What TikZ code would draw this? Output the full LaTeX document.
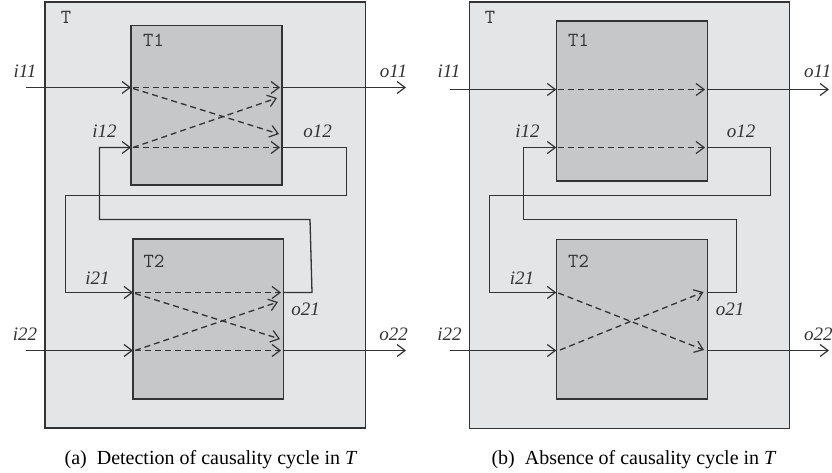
\documentclass[tikz,border=0pt]{standalone}
\usepackage{fontspec}
\setmainfont{Liberation Serif}
\usetikzlibrary{arrows.meta}
\definecolor{outerfill}{HTML}{E4E5E7}
\definecolor{innerfill}{HTML}{C6C7C9}
\definecolor{ink}{HTML}{333333}
\tikzset{
  barb/.tip={Straight Barb[length=8pt,width=12pt,line width=1.2pt]},
  outerbox/.style={draw=ink,line width=1.5pt,fill=outerfill},
  innerbox/.style={draw=ink,line width=1.5pt,fill=innerfill},
  wire/.style={draw=ink,line width=1.3pt},
  flow/.style={wire,-barb},
  dep/.style={wire,dash pattern=on 6pt off 4pt,-barb},
  lbl/.style={anchor=base,inner sep=0pt,text=ink,font=\fontsize{19}{19}\selectfont\itshape},
  tlbl/.style={anchor=base,inner sep=0pt,text=ink,font=\fontsize{20}{20}\selectfont\ttfamily},
  captext/.style={anchor=base,inner sep=0pt,text=black,font=\fontsize{20}{20}\selectfont},
}
\begin{document}
\begin{tikzpicture}[x=1pt,y=-1pt]
\useasboundingbox (0,0) rectangle (832,473);
% ================= panel (a) =================
\path[outerbox] (45,2) rectangle (365.5,428);
\node[tlbl] (aT) at (66,24) {T};
\path[innerbox] (131,25.5) rectangle (282,185);
\path[innerbox] (133,239) rectangle (283.5,399);
\node[tlbl] (aT1) at (153.5,47) {T1};
\node[tlbl] (aT2) at (154,267) {T2};
% coordinates
\coordinate (a11in) at (131,87.5);
\coordinate (a12in) at (131,147.5);
\coordinate (a11out) at (282,87.5);
\coordinate (a12out) at (282,147.5);
\coordinate (a21in) at (133,292.5);
\coordinate (a22in) at (133,350.5);
\coordinate (a21out) at (283.5,292.5);
\coordinate (a22out) at (283.5,350.5);
\coordinate (a11src) at (26,87.5);
\coordinate (a11dst) at (406,87.5);
\coordinate (a22src) at (26,350.5);
\coordinate (a22dst) at (406,350.5);
% external wires
\draw[flow] (a11src) -- (a11in);
\draw[flow] (a11out) -- (a11dst);
\draw[flow] (a22src) -- (a22in);
\draw[flow] (a22out) -- (a22dst);
% feedback wires
\draw[flow] (a12out) -- (346.5,147.5) -- (346.5,195.5) -- (65.5,195.5) -- (65.5,292.5) -- (a21in);
\draw[flow] (a21out) -- (312,292.5) -- (310,219.5) -- (99.5,219.5) -- (99.5,147.5) -- (a12in);
% internal dependencies
\draw[dep] (133,87.5) -- (280,87.5);
\draw[dep] (133,88.5) -- (279,134);
\draw[dep] (133,147.5) -- (277,98);
\draw[dep] (133,147.5) -- (280,147.5);
\draw[dep] (135,292.5) -- (281,292.5);
\draw[dep] (135,293.5) -- (280,339);
\draw[dep] (135,350.5) -- (278,302);
\draw[dep] (135,350.5) -- (281,350.5);
% labels
\node[lbl] (ai11) at (25,78) {i11};
\node[lbl] (ao11) at (393.5,78) {o11};
\node[lbl] (ai12) at (104.5,138) {i12};
\node[lbl] (ao12) at (317.5,138) {o12};
\node[lbl] (ai21) at (97.5,284) {i21};
\node[lbl] (ao21) at (305.5,315) {o21};
\node[lbl] (ai22) at (25,340) {i22};
\node[lbl] (ao22) at (393.5,340) {o22};
\node[captext] (capa) at (211,464) {(a)\enspace Detection of causality cycle in \textit{T}};
% ================= panel (b) =================
\path[outerbox] (469.3,2) rectangle (789.7,428.3);
\node[tlbl] (bT) at (490,24) {T};
\path[innerbox] (556.3,21) rectangle (707.3,181);
\path[innerbox] (556.3,239.3) rectangle (707.3,399);
\node[tlbl] (bT1) at (578.5,47) {T1};
\node[tlbl] (bT2) at (578.5,267) {T2};
\coordinate (b11in) at (556.3,89.5);
\coordinate (b12in) at (556.3,147.5);
\coordinate (b11out) at (707.3,89.5);
\coordinate (b12out) at (707.3,147.5);
\coordinate (b21in) at (556.3,292.5);
\coordinate (b22in) at (556.3,350.5);
\coordinate (b21out) at (707.3,292.5);
\coordinate (b22out) at (707.3,350.5);
\coordinate (b11src) at (450,89.5);
\coordinate (b11dst) at (829,89.5);
\coordinate (b22src) at (450,350.5);
\coordinate (b22dst) at (829,350.5);
\draw[flow] (b11src) -- (b11in);
\draw[flow] (b11out) -- (b11dst);
\draw[flow] (b22src) -- (b22in);
\draw[flow] (b22out) -- (b22dst);
\draw[flow] (b12out) -- (770.5,147.5) -- (770.5,195.5) -- (489.5,195.5) -- (489.5,292.5) -- (b21in);
\draw[flow] (b21out) -- (736.5,292.5) -- (736.5,219.5) -- (523.5,219.5) -- (523.5,147.5) -- (b12in);
\draw[dep] (558.3,89.5) -- (705,89.5);
\draw[dep] (558.3,147.5) -- (705,147.5);
\draw[dep] (558.3,293) -- (704,350);
\draw[dep] (560,350) -- (703.5,292);
\node[lbl] (bi11) at (449,78) {i11};
\node[lbl,anchor=base west] (bo11) at (804,78) {o11};
\node[lbl] (bi12) at (527.5,138) {i12};
\node[lbl] (bo12) at (741,138) {o12};
\node[lbl] (bi21) at (522,284) {i21};
\node[lbl] (bo21) at (730,315) {o21};
\node[lbl] (bi22) at (449.5,340) {i22};
\node[lbl,anchor=base west] (bo22) at (804,340) {o22};
\node[captext] (capb) at (634,464) {(b)\enspace Absence of causality cycle in \textit{T}};
\end{tikzpicture}
\end{document}
